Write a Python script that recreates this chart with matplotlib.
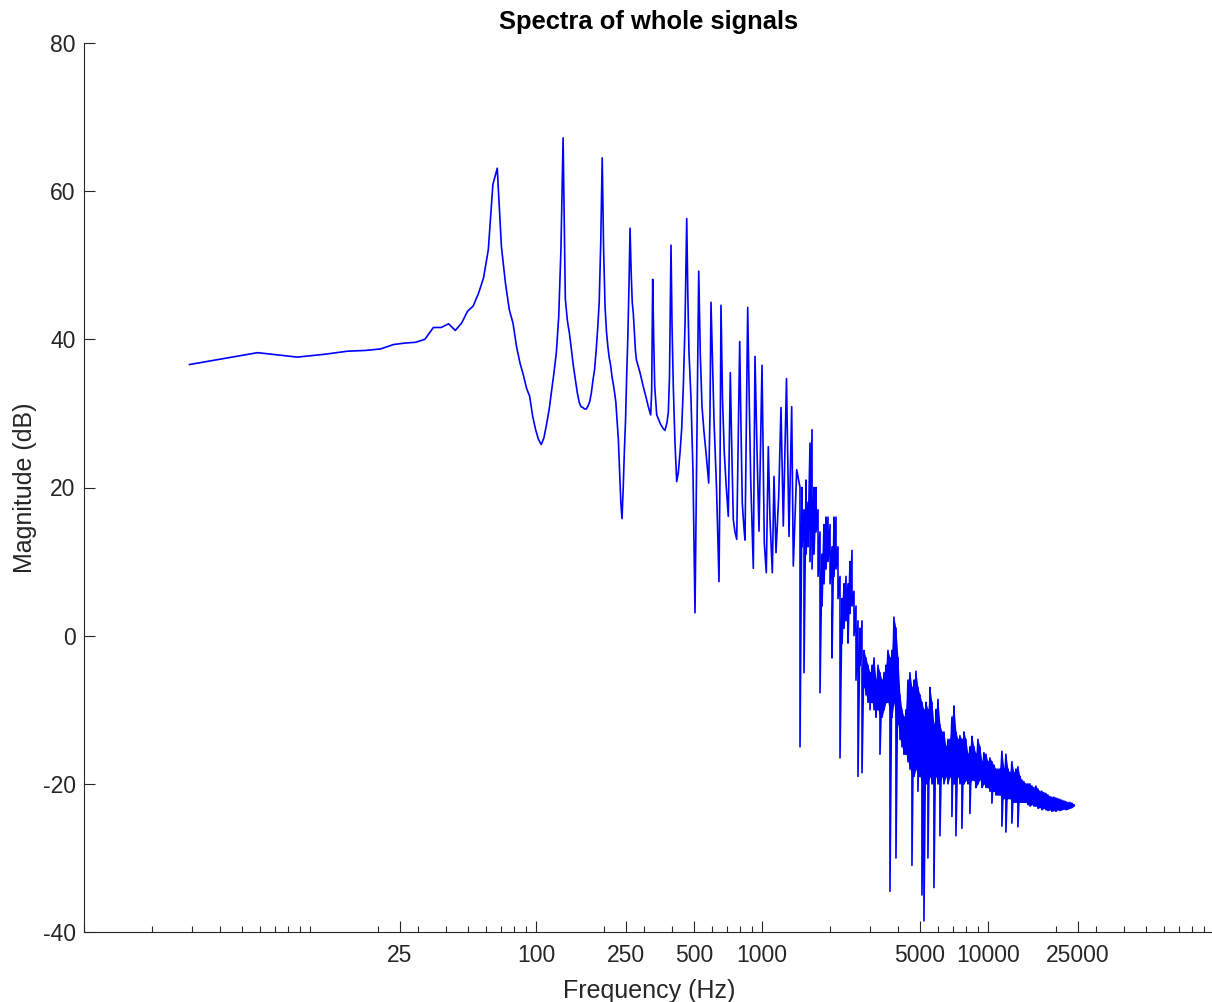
import numpy as np
import matplotlib
matplotlib.use("Agg")
import matplotlib.pyplot as plt
from matplotlib.ticker import FixedLocator, FixedFormatter, LogLocator, NullFormatter

plt.rcParams['font.family'] = ['Liberation Sans', 'DejaVu Sans']

title = "Spectra of whole signals"
xlabel = "Frequency (Hz)"
ylabel = "Magnitude (dB)"
x_ticks = [25, 100, 250, 500, 1000, 5000, 10000, 25000]
x_tick_labels = ["25", "100", "250", "500", "1000", "5000", "10000", "25000"]
y_ticks = [-40, -20, 0, 20, 40, 60, 80]

# low / harmonic part of the spectrum (Hz, dB)
low_freq = [2.93, 5.86, 8.79, 11.72, 14.65, 17.58, 20.51, 23.44, 26.37, 29.30,
            32.23, 35.16, 38.09, 41.02, 43.95, 46.88, 49.80, 52.73, 55.66, 58.59,
            61.52, 64.45, 67.38, 70.31, 73.24, 76.17, 79.10, 82.03, 84.96, 87.89,
            90.82, 93.75, 96.68, 99.61, 102.5, 105.5, 108.4, 111.3, 114.3, 117.2,
            120.1, 123.0, 126.0, 128.9, 131.8, 134.8, 137.7, 140.6, 143.6, 146.5,
            149.4, 152.3, 155.3, 158.2, 161.1, 164.1, 167.0, 169.9, 172.9, 175.8,
            178.7, 181.6, 184.6, 187.5, 190.4, 193.4, 196.3, 199.2, 202.1, 205.1,
            208.0, 210.9, 213.9, 216.8, 219.7, 222.7, 225.6, 228.5, 231.4, 234.4,
            237.3, 240.2, 243.2, 246.1, 249.0, 251.9, 254.9, 257.8, 260.7, 263.7,
            266.6, 269.5, 272.5, 275.4, 278.3, 288.6, 298.4, 306.7, 314.0, 321.7,
            325.0, 328.4, 331.8, 335.2, 342.1, 356.3, 364.7, 372.2, 379.9, 385.0,
            389.7, 395.7, 399.8, 405.1, 412.1, 419.4, 426.2, 433.7, 441.3, 448.6,
            456.4, 464.4, 469.7, 475.3, 485.1, 495.1, 505.3, 514.7, 524.8, 533.3,
            542.7, 553.8, 565.2, 581.0, 588.7, 594.7, 603.9, 613.2, 629.1, 645.2,
            651.9, 658.5, 668.6, 681.0, 695.0, 709.4, 724.0, 735.2, 746.4, 759.5,
            772.9, 796.7, 807.4, 818.1, 829.9, 841.0, 864.4, 877.8, 891.3, 903.2,
            915.2, 931.1, 950.4, 969.9, 1000.0, 1023.7, 1044.7, 1066.3, 1084.9, 1110.7,
            1130.1, 1153.3, 1185.5, 1213.6, 1242.4, 1283.5, 1316.7, 1353.3, 1375.6, 1424.0]
low_mag = [36.6, 38.2, 37.6, 38.0, 38.4, 38.5, 38.7, 39.3, 39.5, 39.6,
           40.0, 41.6, 41.6, 42.1, 41.2, 42.2, 43.8, 44.5, 46.2, 48.3,
           52.1, 60.9, 63.1, 52.5, 47.6, 44.0, 42.2, 39.0, 36.8, 35.2,
           33.4, 32.3, 29.6, 27.8, 26.5, 25.8, 26.7, 28.5, 30.5, 33.0,
           35.5, 38.2, 43.0, 52.0, 67.2, 45.5, 42.5, 40.8, 38.5, 36.3,
           34.5, 32.8, 31.5, 30.9, 30.8, 30.6, 30.6, 31.0, 31.6, 32.8,
           34.5, 35.9, 38.5, 41.5, 45.0, 53.0, 64.5, 52.0, 44.4, 41.0,
           39.0, 37.5, 36.5, 35.0, 34.0, 32.8, 31.5, 29.0, 26.5, 22.0,
           18.0, 15.8, 20.0, 25.0, 29.1, 35.0, 40.4, 47.0, 55.0, 49.0,
           45.0, 43.5, 41.0, 38.5, 37.2, 35.5, 33.6, 32.2, 30.9, 29.8,
           33.0, 48.1, 40.0, 33.6, 29.8, 28.5, 28.0, 27.7, 28.8, 30.1,
           35.0, 52.7, 42.0, 33.6, 26.0, 20.8, 22.0, 24.7, 28.0, 33.6,
           42.0, 56.3, 46.0, 38.2, 32.0, 22.0, 3.1, 25.0, 49.2, 38.0,
           30.9, 27.5, 24.7, 20.6, 30.0, 45.0, 37.0, 29.1, 20.0, 7.3,
           22.0, 44.6, 32.0, 24.7, 20.0, 16.1, 35.5, 25.0, 15.7, 14.0,
           13.0, 39.7, 28.0, 17.9, 15.0, 12.9, 44.3, 32.0, 21.1, 15.0,
           9.1, 37.7, 25.0, 14.1, 36.5, 12.5, 8.5, 25.5, 15.7, 8.5,
           21.5, 11.2, 18.8, 30.8, 14.8, 34.7, 13.4, 30.9, 9.4, 22.4]

# dense high-frequency part: upper and lower excursion of the trace (Hz, dB)
dense_freq = [1473, 1503, 1534, 1566, 1598, 1631, 1665, 1699, 1734, 1770,
              1806, 1843, 1881, 1920, 1959, 2000, 2041, 2083, 2126, 2169,
              2214, 2260, 2306, 2354, 2402, 2451, 2502, 2553, 2606, 2659,
              2714, 2770, 2827, 2885, 2944, 3005, 3067, 3130, 3194, 3260,
              3327, 3395, 3465, 3536, 3609, 3683, 3759, 3836, 3915, 3996,
              4078, 4162, 4248, 4335, 4424, 4515, 4608, 4703, 4799, 4898,
              4999, 5102, 5207, 5314, 5423, 5535, 5649, 5765, 5884, 6005,
              6128, 6254, 6383, 6514, 6648, 6785, 6925, 7067, 7213, 7361,
              7513, 7667, 7825, 7986, 8150, 8318, 8489, 8664, 8842, 9024,
              9210, 9399, 9593, 9790, 9992, 10197, 10407, 10621, 10840, 11063,
              11290, 11523, 11760, 12002, 12249, 12501, 12758, 13021, 13289, 13562,
              13841, 14126, 14417, 14714, 15017, 15326, 15641, 15963, 16292, 16627,
              16969, 17319, 17675, 18039, 18410, 18789, 19176, 19571, 19973, 20384,
              20804, 21232, 21669, 22115, 22570, 23035, 23509, 23993]
dense_hi = [20, 20, 17, 21, 18, 26, 27.8, 20, 20, 17,
            14, 11, 15, 16, 16, 15, 12, 16, 16, 12,
            8, 5, 7, 8, 7, 10, 11.5, 6, 4, 2,
            1, 2, -2, -3, -4, -5, -4, -3, -6, -4,
            -5, -6, -5, -4, -2, -3, -2, 2.5, 1, -3,
            -8, -10, -11, -10, -6, -5, -7, -6, -4.8, -7,
            -8, -9, -10, -9, -10, -7, -9, -12, -10, -8.6,
            -12, -13, -13, -15, -14, -14, -11, -9.5, -13, -14,
            -13.5, -14, -13, -14, -16, -15, -13.6, -15, -16, -14,
            -15, -17, -15.8, -16, -17, -16.5, -17, -17.5, -18, -18,
            -18, -15.6, -18, -16, -18, -18.5, -17, -18.5, -18, -17.7,
            -19, -19.5, -19.7, -20, -20, -20, -20.3, -20.5, -20.3, -20.7,
            -21, -21, -21.2, -21.3, -21.5, -21.7, -21.8, -21.8, -21.9, -22,
            -22.1, -22.2, -22.3, -22.4, -22.5, -22.5, -22.6, -22.8]
dense_lo = [-15, 12, -5, 11, 12, 10, 9, 11, 14, 8,
            -7.7, 4, 7, 9, 10, 7, -3, 8, 9, 5,
            -16.5, -1, 1, 2, -1, 3, 4, 0, -6, -19,
            -4, -18.5, -7, -8, -9, -10, -9, -10, -11, -10,
            -16, -11, -10, -9, -9, -34.5, -11, -9, -30, -12,
            -14, -15, -16, -16, -17, -18, -31, -19, -18, -21,
            -19, -35, -38.5, -20, -30, -19, -20, -34, -19, -20,
            -27, -19, -20, -19, -20, -19, -24.4, -20, -27, -19,
            -20, -26, -20, -19.5, -20, -24, -19.5, -19.5, -20.5, -20,
            -19.4, -20.5, -20, -20.5, -20.5, -21, -22.6, -21, -21.5, -21.5,
            -21.5, -25.7, -22, -26.5, -22, -22, -25.3, -22.5, -22.5, -25.8,
            -22.5, -22.5, -22.5, -22.5, -22.8, -23, -22.8, -23, -23, -23.3,
            -23.2, -23.5, -23.3, -23.5, -23.6, -23.5, -23.7, -23.6, -23.7, -23.5,
            -23.6, -23.5, -23.4, -23.5, -23.4, -23.3, -23.2, -23.0]
# lower edge of the solid band (where the trace is densely packed), from 2827 Hz on
band_start = 32
band_bottom = [-7, -8, -9, -9, -9, -10, -10, -10,
               -11, -11, -10, -9, -9, -11, -11, -9, -12, -12,
               -14, -15, -16, -16, -17, -18, -19, -19, -18, -19,
               -19, -20, -20, -20, -20, -19, -20, -20, -19, -20,
               -20, -19, -20, -19, -20, -19, -20, -20, -20, -19,
               -20, -20, -20, -19.5, -20, -20, -19.5, -19.5, -20.5, -20,
               -19.4, -20.5, -20, -20.5, -20.5, -21, -21, -21, -21.5, -21.5,
               -21.5, -22, -22, -22, -22, -22, -22.3, -22.5, -22.5, -22.5,
               -22.5, -22.5, -22.5, -22.5, -22.8, -23, -22.8, -23, -23, -23.3,
               -23.2, -23.5, -23.3, -23.5, -23.6, -23.5, -23.7, -23.6, -23.7, -23.5,
               -23.6, -23.5, -23.4, -23.5, -23.4, -23.3, -23.2, -23.0]

freq = np.concatenate([np.asarray(low_freq, float), np.repeat(np.asarray(dense_freq, float), 2)])
mag = np.concatenate([np.asarray(low_mag, float),
                      np.column_stack([dense_hi, dense_lo]).ravel()])

W, H = 1212, 1002
fig = plt.figure(figsize=(W / 100, H / 100), dpi=100)
ax = fig.add_axes([84 / W, 70 / H, 1130 / W, 889 / H])
line_col = '#0000ff'
ax.fill_between(dense_freq[band_start:], band_bottom, dense_hi[band_start:],
                color=line_col, lw=0)
ax.plot(freq, mag, color=line_col, lw=1.2)

ax.set_xscale('log')
ax.set_xlim(1, 1e5)
ax.set_ylim(-40, 80)
ax.xaxis.set_major_locator(FixedLocator(x_ticks))
ax.xaxis.set_major_formatter(FixedFormatter(x_tick_labels))
ax.xaxis.set_minor_locator(LogLocator(base=10, subs=np.arange(1, 10), numticks=100))
ax.xaxis.set_minor_formatter(NullFormatter())
ax.yaxis.set_major_locator(FixedLocator(y_ticks))
ax.set_yticklabels([str(v) for v in y_ticks])

axis_col = '#262626'
for s in ['top', 'right']:
    ax.spines[s].set_visible(False)
for s in ['left', 'bottom']:
    ax.spines[s].set_color(axis_col)
    ax.spines[s].set_linewidth(0.8)
ax.tick_params(axis='both', which='major', direction='in', length=8, width=0.8,
               color=axis_col, labelcolor=axis_col, labelsize=16.5)
ax.tick_params(axis='x', which='minor', direction='in', length=4, width=0.8, color=axis_col)
ax.tick_params(axis='y', which='major', pad=6)
ax.tick_params(axis='x', which='major', pad=9)

ax.set_title(title, fontsize=18.4, fontweight='bold', color='black', pad=10)
ax.set_xlabel(xlabel, fontsize=18, color=axis_col, labelpad=8)
ax.set_ylabel(ylabel, fontsize=18, color=axis_col, labelpad=4)

fig.savefig("out.png", dpi=100, facecolor='white')
